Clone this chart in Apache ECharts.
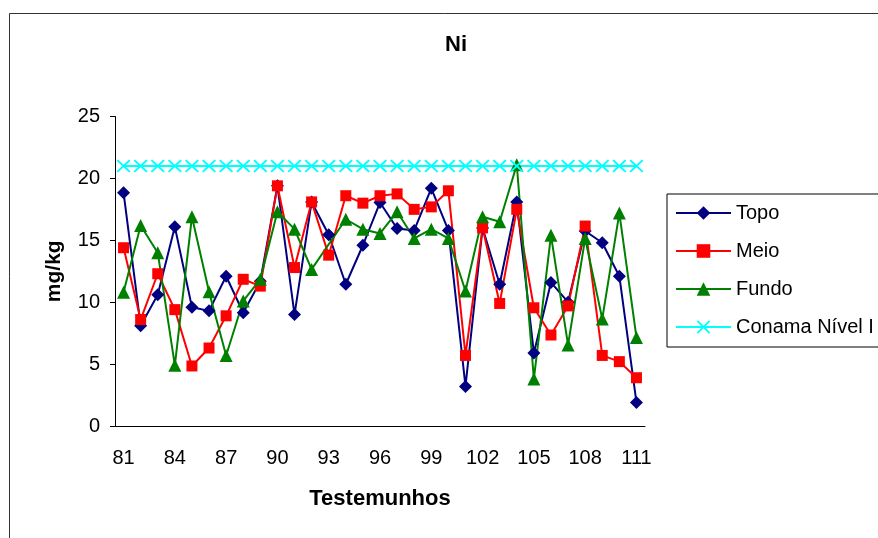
<!DOCTYPE html>
<html>
<head>
<meta charset="utf-8">
<script src="https://cdn.jsdelivr.net/npm/echarts@6/dist/echarts.min.js"></script>
<style>
html,body{margin:0;padding:0;background:#fff;}
#c{width:878px;height:538px;}
</style>
</head>
<body>
<div id="c"></div>
<script>
const categories = ['81','82','83','84','85','86','87','88','89','90','91','92','93','94','95','96','97','98','99','100','101','102','103','104','105','106','107','108','109','110','111'];
const topo  = [18.85, 8.1, 10.6, 16.1, 9.6, 9.3, 12.1, 9.15, 11.7, 19.4, 9.0, 18.1, 15.45, 11.45, 14.6, 18.05, 15.95, 15.8, 19.2, 15.8, 3.2, 16.0, 11.45, 18.1, 5.9, 11.6, 10.0, 15.75, 14.8, 12.1, 1.9];
const meio  = [14.4, 8.6, 12.3, 9.4, 4.85, 6.3, 8.9, 11.85, 11.3, 19.4, 12.8, 18.1, 13.8, 18.6, 18.0, 18.6, 18.75, 17.5, 17.7, 19.0, 5.7, 16.0, 9.9, 17.5, 9.55, 7.35, 9.7, 16.15, 5.7, 5.2, 3.9];
const fundo = [10.8, 16.2, 14.0, 4.9, 16.9, 10.85, 5.7, 10.1, 11.85, 17.3, 15.9, 12.65, null, 16.7, 15.9, 15.55, 17.3, 15.15, 15.9, 15.15, 10.9, 16.9, 16.5, 21.1, 3.8, 15.4, 6.55, 15.15, 8.65, 17.2, 7.15];
const conama = categories.map(() => 21);
const seriesNames = ['Topo', 'Meio', 'Fundo', 'Conama Nível I'];

const xPath = 'path://M0,1 L1,0 L5,4 L9,0 L10,1 L6,5 L10,9 L9,10 L5,6 L1,10 L0,9 L4,5 Z';

const chart = echarts.init(document.getElementById('c'), null, {renderer: 'canvas'});
const font = 'Arial, "Liberation Sans", sans-serif';
chart.setOption({
  animation: false,
  backgroundColor: '#fff',
  textStyle: {fontFamily: font},
  graphic: [{
    type: 'rect', left: 7, top: 11, z: -1,
    shape: {width: 900, height: 600},
    style: {fill: 'none', stroke: '#333', lineWidth: 1}
  }],
  title: {
    text: 'Ni', left: 440, top: 29,
    textStyle: {fontSize: 22, fontWeight: 'bold', color: '#000', fontFamily: font}
  },
  legend: {
    orient: 'vertical', left: 667, top: 194,
    padding: [8, 40, 9, 8],
    borderColor: '#000', borderWidth: 1,
    itemWidth: 55, itemHeight: 17, itemGap: 16,
    textStyle: {fontSize: 20, color: '#000', lineHeight: 22, fontFamily: font},
    data: seriesNames
  },
  grid: {left: 115, right: 233, top: 116.5, bottom: 112, containLabel: false},
  xAxis: {
    type: 'category', data: categories, boundaryGap: true,
    name: 'Testemunhos', nameLocation: 'middle', nameGap: 62,
    nameTextStyle: {fontSize: 22, fontWeight: 'bold', color: '#000', fontFamily: font},
    axisLine: {lineStyle: {color: '#000', width: 1}},
    axisTick: {interval: 0, length: 5, lineStyle: {color: '#000'}},
    axisLabel: {interval: 2, fontSize: 20, color: '#000', margin: 22, fontFamily: font},
    splitLine: {show: false}
  },
  yAxis: {
    type: 'value', min: 0, max: 25, interval: 5,
    name: 'mg/kg', nameLocation: 'middle', nameGap: 50, nameRotate: 90,
    nameTextStyle: {fontSize: 21, fontWeight: 'bold', color: '#000', fontFamily: font},
    axisLine: {show: true, lineStyle: {color: '#000', width: 1}},
    axisTick: {show: true, length: 5, lineStyle: {color: '#000'}},
    axisLabel: {fontSize: 20, color: '#000', margin: 15, fontFamily: font},
    splitLine: {show: false}
  },
  series: [
    {name: seriesNames[0], type: 'line', data: topo, symbol: 'diamond', symbolSize: 13, showAllSymbol: true,
     lineStyle: {color: '#000080', width: 2}, itemStyle: {color: '#000080'}},
    {name: seriesNames[1], type: 'line', data: meio, symbol: 'rect', symbolSize: 11, showAllSymbol: true,
     lineStyle: {color: '#FF0000', width: 2}, itemStyle: {color: '#FF0000'}},
    {name: seriesNames[2], type: 'line', data: fundo, symbol: 'triangle', symbolSize: 13, showAllSymbol: true, connectNulls: true,
     lineStyle: {color: '#008000', width: 2}, itemStyle: {color: '#008000'}},
    {name: seriesNames[3], type: 'line', data: conama, symbol: xPath, symbolSize: [14, 13], showAllSymbol: true,
     lineStyle: {color: '#00FFFF', width: 2}, itemStyle: {color: '#00FFFF'}}
  ]
});
</script>
</body>
</html>
